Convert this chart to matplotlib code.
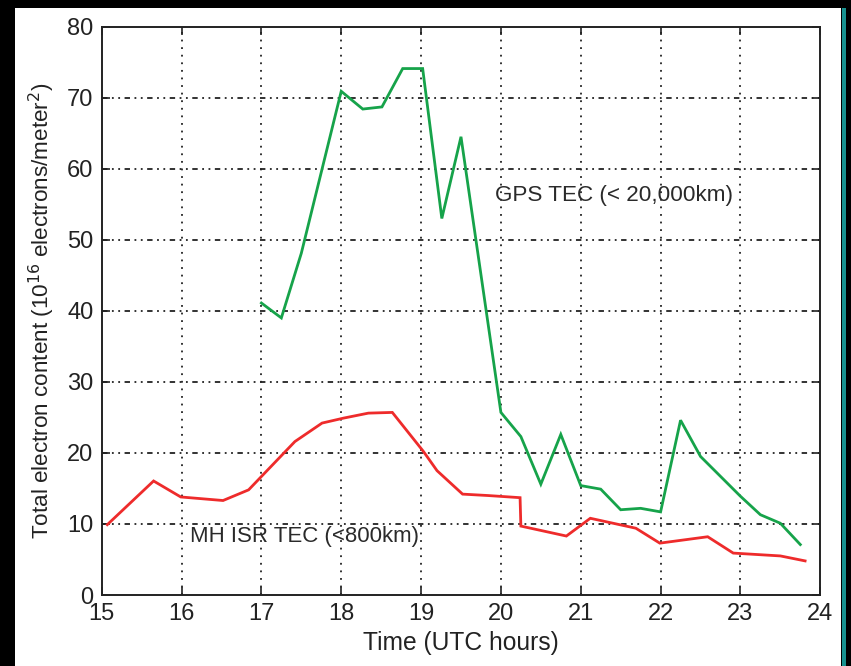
import matplotlib
matplotlib.use("Agg")
import matplotlib.pyplot as plt
from matplotlib.patches import Rectangle

# GPS TEC samples (UTC hours, 10^16 el/m^2)
gpsHours = [17.0, 17.25, 17.5, 17.75, 18.0, 18.27, 18.51, 18.77, 19.02, 19.26, 19.5,
            20.0, 20.25, 20.5, 20.75, 21.0, 21.25, 21.5, 21.75, 22.0, 22.25, 22.5,
            23.0, 23.25, 23.5, 23.75]
gpsTec = [41.1, 39.0, 48.1, 59.5, 70.9, 68.4, 68.7, 74.1, 74.1, 53.0, 64.5,
          25.7, 22.3, 15.6, 22.6, 15.4, 14.9, 12.0, 12.2, 11.7, 24.6, 19.5,
          13.9, 11.3, 10.1, 7.1]

# Millstone Hill ISR TEC samples
isrHours = [15.07, 15.65, 15.99, 16.52, 16.84, 17.42, 17.76, 18.03, 18.34, 18.64,
            19.03, 19.2, 19.52, 19.84, 20.24, 20.25, 20.82, 21.12, 21.69, 21.99,
            22.59, 22.91, 23.5, 23.81]
isrTec = [9.9, 16.05, 13.8, 13.3, 14.8, 21.6, 24.2, 24.9, 25.6, 25.7,
          20.2, 17.5, 14.2, 14.0, 13.7, 9.7, 8.3, 10.8, 9.4, 7.3,
          8.2, 5.9, 5.5, 4.8]

xTicks = list(range(15, 25))
yTicks = list(range(0, 81, 10))

plt.rcParams["font.family"] = ["Liberation Sans", "DejaVu Sans"]

fig = plt.figure(figsize=(8.51, 6.66), dpi=100, facecolor="black")
# white page with a thin teal strip on the right
fig.patches.append(Rectangle((15 / 851, 0), 826 / 851, 658 / 666,
                             transform=fig.transFigure, facecolor="white",
                             edgecolor="none", zorder=-2))
fig.patches.append(Rectangle((842 / 851, 0), 4 / 851, 658 / 666,
                             transform=fig.transFigure, facecolor="#17918f",
                             edgecolor="none", zorder=-2))

ax = fig.add_axes([0.1195, 0.1066, 0.8444, 0.8534])
ax.set_facecolor("white")

ax.plot(gpsHours, gpsTec, color="#16a34a", linewidth=2.0, solid_joinstyle="miter")
ax.plot(isrHours, isrTec, color="#ee2b2b", linewidth=2.0, solid_joinstyle="miter")

ax.text(19.93, 56.3, "GPS TEC (< 20,000km)", fontsize=16.2, va="center",
        color="#2a2a2a")
ax.text(16.10, 8.2, "MH ISR TEC (<800km)", fontsize=16, va="center",
        color="#2a2a2a")

ax.set_xlim(15, 24)
ax.set_ylim(0, 80)
ax.set_xticks(xTicks)
ax.set_yticks(yTicks)
ax.tick_params(direction="in", length=6, width=1.2, labelsize=17,
               top=True, right=True, colors="#222222", pad=6)

# dotted verticals, dash-dot horizontals
for x in xTicks[1:-1]:
    ax.axvline(x, color="#222222", linewidth=1.3, linestyle=(0, (1, 3.2)), zorder=0)
for y in yTicks[1:-1]:
    ax.axhline(y, color="#222222", linewidth=1.3, linestyle=(0, (3, 2.5, 1, 2.5, 1, 2.5)), zorder=0)

for spine in ax.spines.values():
    spine.set_linewidth(1.4)
    spine.set_color("#222222")

ax.set_xlabel("Time (UTC hours)", fontsize=17.7, labelpad=4, color="#222222")
ax.set_ylabel("Total electron content (10$^{16}$ electrons/meter$^{2}$)",
              fontsize=16.2, labelpad=7, color="#222222")

fig.savefig("out.png", dpi=100, facecolor=fig.get_facecolor())
